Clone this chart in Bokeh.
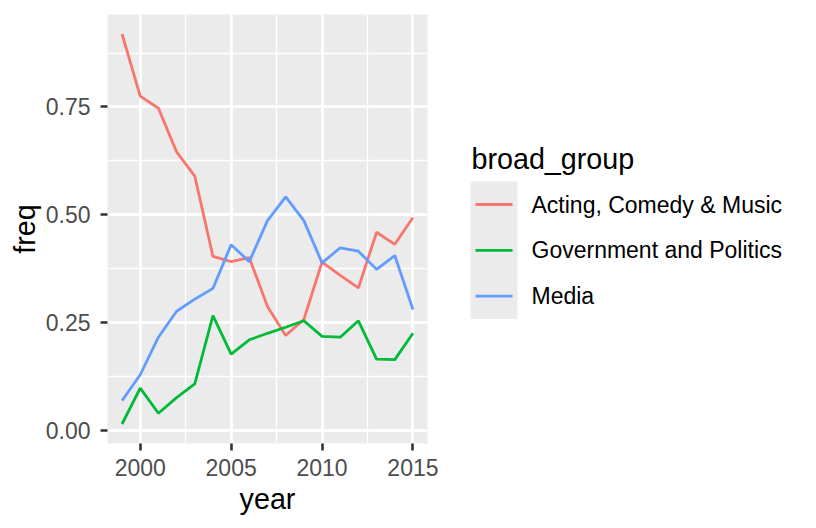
from bokeh.plotting import figure
from bokeh.layouts import row
from bokeh.models import Range1d, SingleIntervalTicker, PrintfTickFormatter
from bokeh.core.properties import value
from bokeh.embed import file_html
from bokeh.resources import INLINE

# ---- data ----
years = list(range(1999, 2016))
groups = ["Acting, Comedy & Music", "Government and Politics", "Media"]
acting = [0.919, 0.775, 0.747, 0.646, 0.590, 0.404, 0.392, 0.401, 0.288,
          0.221, 0.258, 0.391, 0.360, 0.331, 0.460, 0.432, 0.494]
government = [0.016, 0.099, 0.041, 0.077, 0.109, 0.267, 0.178, 0.211, 0.226,
              0.240, 0.255, 0.219, 0.217, 0.255, 0.166, 0.165, 0.226]
media = [0.070, 0.130, 0.217, 0.277, 0.305, 0.330, 0.431, 0.392, 0.487,
         0.542, 0.487, 0.389, 0.424, 0.416, 0.374, 0.406, 0.281]
series = [acting, government, media]
colors = ["#F8766D", "#00BA38", "#619CFF"]

FONT = "Liberation Sans"

# ggplot-like expansion
xmin, xmax = min(years), max(years)
xpad = (xmax - xmin) * 0.05
allv = acting + government + media
ymin, ymax = min(allv), max(allv)
ypad = (ymax - ymin) * 0.05

MAIN_LEFT, FRAME_W, MAIN_RIGHT = 107, 320, 13
TOP, FRAME_H, BOTTOM = 14, 429, 85
MAIN_W = MAIN_LEFT + FRAME_W + MAIN_RIGHT

p = figure(frame_width=FRAME_W, frame_height=FRAME_H,
           min_border_left=MAIN_LEFT, min_border_right=MAIN_RIGHT,
           min_border_top=TOP, min_border_bottom=BOTTOM,
           x_range=Range1d(xmin - xpad, xmax + xpad),
           y_range=Range1d(ymin - ypad, ymax + ypad),
           toolbar_location=None, output_backend="svg",
           background_fill_color="#EBEBEB", border_fill_color="white",
           outline_line_color=None)

for vals, c in zip(series, colors):
    p.line(years, vals, line_color=c, line_width=2.8)

p.xaxis.ticker = SingleIntervalTicker(interval=5, num_minor_ticks=2)
p.yaxis.ticker = SingleIntervalTicker(interval=0.25, num_minor_ticks=2)
p.xaxis.formatter = PrintfTickFormatter(format="%d")
p.yaxis.formatter = PrintfTickFormatter(format="%.2f")
p.xaxis.axis_label = "year"
p.yaxis.axis_label = "freq"

for ax in (p.xaxis, p.yaxis):
    ax.axis_line_color = None
    ax.major_tick_line_color = "#333333"
    ax.major_tick_line_width = 2.6
    ax.major_tick_in = 0
    ax.major_tick_out = 7
    ax.minor_tick_line_color = None
    ax.major_label_text_font = FONT
    ax.major_label_text_font_size = "23px"
    ax.major_label_text_color = "#4D4D4D"
    ax.axis_label_text_font = FONT
    ax.axis_label_text_font_size = "28.7px"
    ax.axis_label_text_font_style = "normal"
    ax.axis_label_text_color = "black"

p.xaxis.major_label_standoff = 8
p.xaxis.axis_label_standoff = 4
p.yaxis.major_label_standoff = 10
p.yaxis.axis_label_standoff = 2

for g in (p.xgrid, p.ygrid):
    g.grid_line_color = "white"
    g.grid_line_width = 2.6
    g.minor_grid_line_color = "white"
    g.minor_grid_line_width = 1.3

# ---- legend panel (separate figure; its frame is aligned with the main frame,
#      ranges expressed in page pixels) ----
LW = 800 - MAIN_W
leg = figure(frame_width=LW, frame_height=FRAME_H,
             min_border_left=0, min_border_right=0,
             min_border_top=TOP, min_border_bottom=BOTTOM,
             x_range=Range1d(MAIN_W, MAIN_W + LW),
             y_range=Range1d(TOP + FRAME_H, TOP), toolbar_location=None,
             output_backend="svg", outline_line_color=None,
             x_axis_location=None, y_axis_location=None,
             background_fill_color="white", border_fill_color="white")
leg.grid.visible = False

key_y = [204 + i * 45.8 for i in range(len(groups))]
leg.quad(left=[470], right=[517], top=[181], bottom=[318.5],
         fill_color="#EBEBEB", line_color=None)
leg.segment(x0=[475] * len(groups), x1=[512] * len(groups), y0=key_y, y1=key_y,
            line_color=colors, line_width=2.8)
leg.text(x=[531] * len(groups), y=key_y, text=groups,
         text_font=value(FONT), text_font_size="23px", text_color="black",
         text_baseline="middle", text_align="left")
leg.text(x=[471], y=[158], text=["broad_group"],
         text_font=value(FONT), text_font_size="28.7px", text_color="black",
         text_baseline="alphabetic", text_align="left")

layout = row(p, leg)
open("out.html", "w").write(file_html(layout, INLINE))
